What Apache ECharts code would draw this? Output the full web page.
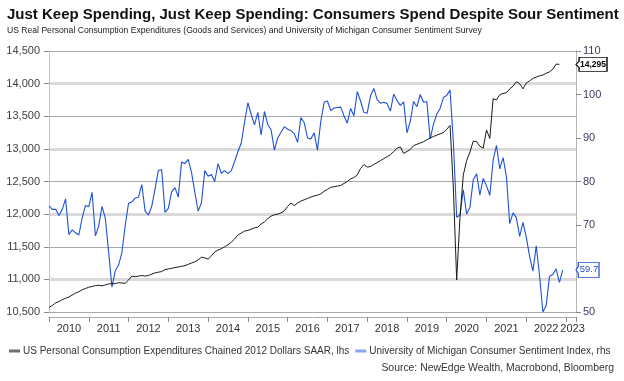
<!DOCTYPE html>
<html><head><meta charset="utf-8">
<script src="https://cdn.jsdelivr.net/npm/echarts@6/dist/echarts.min.js"></script>
<style>html,body{margin:0;padding:0;background:#fff}#c{width:624px;height:381px}</style>
</head><body><div id="c"></div>
<script>
// ---------------- data ----------------
const startYear = 2010;               // first monthly observation: Jan 2010
const yearLabels = [2010, 2011, 2012, 2013, 2014, 2015, 2016, 2017, 2018, 2019, 2020, 2021, 2022, 2023];
const leftTickValues = [10500, 11000, 11500, 12000, 12500, 13000, 13500, 14000, 14500];
const rightTickValues = [50, 60, 70, 80, 90, 100, 110];

// US real PCE, chained 2012 $bn SAAR, monthly Jan 2010 - Nov 2022
const pceValues = [
  10570, 10600, 10640, 10660, 10690, 10710, 10730, 10760, 10790, 10810, 10840, 10860,
  10880, 10890, 10905, 10910, 10900, 10915, 10930, 10935, 10935, 10950, 10945, 10940,
  10990, 11050, 11040, 11050, 11060, 11050, 11060, 11080, 11100, 11110, 11120, 11150,
  11160, 11170, 11180, 11190, 11200, 11210, 11230, 11250, 11270, 11300, 11340, 11330,
  11310, 11360, 11420, 11450, 11470, 11500, 11530, 11570, 11620, 11680, 11710, 11740,
  11750, 11770, 11790, 11800, 11850, 11880, 11930, 11970, 11990, 12000, 12020, 12050,
  12120, 12170, 12130, 12170, 12200, 12220, 12240, 12260, 12280, 12290, 12310, 12350,
  12380, 12410, 12420, 12430, 12440, 12470, 12500, 12540, 12560, 12600, 12700, 12760,
  12720, 12730, 12760, 12790, 12820, 12850, 12880, 12910, 12960, 13010, 13030, 12930,
  12960, 12990, 13050, 13070, 13090, 13110, 13140, 13170, 13190, 13210, 13230, 13250,
  13300, 13360, 12400, 10990, 11950, 12600, 12820, 12950, 13120, 13110, 13040, 13010,
  13290, 13160, 13770, 13750, 13830, 13850, 13860, 13920, 13960, 14030, 14000, 13920,
  14010, 14040, 14080, 14100, 14120, 14130, 14160, 14180, 14220, 14300, 14295
];

// University of Michigan consumer sentiment, monthly Jan 2010 - Dec 2022
const sentimentValues = [
  74.4, 73.6, 73.6, 72.2, 73.6, 76.0, 67.8, 68.9, 68.2, 67.7, 71.6, 74.5,
  74.2, 77.5, 67.5, 69.8, 74.3, 71.5, 63.7, 55.7, 59.5, 60.8, 63.7, 69.9,
  75.0, 75.3, 76.2, 76.4, 79.3, 73.2, 72.3, 74.3, 78.3, 82.6, 82.7, 72.9,
  73.8, 77.6, 78.6, 76.4, 84.5, 84.1, 85.1, 82.1, 77.5, 73.2, 75.1, 82.5,
  81.2, 81.6, 80.0, 84.1, 81.9, 82.5, 81.8, 82.5, 84.6, 86.9, 88.8, 93.6,
  98.1, 95.4, 93.0, 95.9, 90.7, 96.1, 93.1, 91.9, 87.2, 90.0, 91.3, 92.6,
  92.0, 91.7, 91.0, 89.0, 94.7, 93.5, 90.0, 89.8, 91.2, 87.2, 93.8, 98.2,
  98.5, 96.3, 96.9, 97.0, 97.1, 95.1, 93.4, 96.8, 95.1, 100.7, 98.5, 95.9,
  95.7, 99.7, 101.4, 98.8, 98.0, 98.2, 97.9, 96.2, 100.1, 98.6, 97.5, 98.3,
  91.2, 93.8, 98.4, 97.2, 100.0, 98.2, 98.4, 89.8, 93.2, 95.5, 96.8, 99.3,
  99.8, 101.0, 89.1, 71.8, 72.3, 78.1, 72.5, 74.1, 80.4, 81.8, 76.9, 80.7,
  79.0, 76.8, 84.9, 88.3, 82.9, 85.5, 81.2, 70.3, 72.8, 71.7, 67.4, 70.6,
  67.2, 62.8, 59.4, 65.2, 58.4, 50.0, 51.5, 58.2, 58.6, 59.9, 56.8, 59.7
];

const titleText = 'Just Keep Spending, Just Keep Spending: Consumers Spend Despite Sour Sentiment';
const subtitleText = 'US Real Personal Consumption Expenditures (Goods and Services) and University of Michigan Consumer Sentiment Survey';
const sourceText = 'Source: NewEdge Wealth, Macrobond, Bloomberg';
const pceName = 'US Personal Consumption Expenditures Chained 2012 Dollars SAAR, lhs';
const umName = 'University of Michigan Consumer Sentiment Index, rhs';

// ---------------- chart ----------------
const FONT = '"Liberation Sans", Arial, sans-serif';
const xMin = yearLabels[0];
const xMax = yearLabels[yearLabels.length - 1] + 0.25;
const toPairs = vals => vals.map((v, i) => [startYear + i / 12, v]);
const fmt = v => Number(v).toLocaleString('en-US');
const pceLast = pceValues[pceValues.length - 1];
const umLast = sentimentValues[sentimentValues.length - 1];
const BLUE = '#1f50d8';
const BLACK = '#1a1a1a';
const callout = 'path://M3,0 L30,0 L30,15 L3,15 L3,11 L0,7.5 L3,4 Z';

const chart = echarts.init(document.getElementById('c'), null, {renderer: 'canvas'});
chart.setOption({
  animation: false,
  backgroundColor: '#fff',
  textStyle: {fontFamily: FONT},
  title: [
    {text: titleText, left: 7, top: 7, padding: 0, textStyle: {fontFamily: FONT, fontSize: 15, fontWeight: 'bold', color: '#111'}},
    {text: subtitleText, left: 7, top: 26, padding: 0, textStyle: {fontFamily: FONT, fontSize: 8.6, fontWeight: 'normal', color: '#222'}}
  ],
  graphic: [
    {type: 'text', x: 614, y: 368, silent: true,
     style: {text: sourceText, align: 'right', verticalAlign: 'middle', font: '10.4px "Liberation Sans", Arial, sans-serif', fill: '#333'}}
  ],
  grid: {left: 49, right: 48, top: 51, bottom: 69},
  legend: {
    left: 4, top: 341, icon: 'rect', itemWidth: 11, itemHeight: 3, itemGap: 6,
    textStyle: {fontFamily: FONT, fontSize: 10, color: '#333', padding: [0, 0, 0, -2]},
    data: [
      {name: pceName, itemStyle: {color: '#6e6e6e'}},
      {name: umName, itemStyle: {color: '#8ba4ee'}}
    ]
  },
  xAxis: {
    type: 'value', min: xMin, max: xMax, interval: 1, offset: 5,
    axisLine: {show: true, lineStyle: {color: '#a8a8a8'}},
    axisTick: {show: true, length: 5, lineStyle: {color: '#888'}},
    splitLine: {show: false},
    axisLabel: {
      margin: 6, fontSize: 11, color: '#333',
      formatter: v => {
        if (!yearLabels.includes(v)) return '';
        return v === yearLabels[yearLabels.length - 1] ? '{b|' + v + '}' : '{a|' + v + '}';
      },
      rich: {
        a: {fontFamily: FONT, fontSize: 11, color: '#333', padding: [0, 0, 0, 39.8]},
        b: {fontFamily: FONT, fontSize: 11, color: '#333', padding: [0, 0, 0, 13]}
      }
    }
  },
  yAxis: [
    {
      type: 'value', position: 'left', min: leftTickValues[0], max: leftTickValues[leftTickValues.length - 1], interval: 500,
      axisLine: {show: true, lineStyle: {color: '#c4c4c4'}},
      axisTick: {show: true, length: 5, lineStyle: {color: '#888'}},
      axisLabel: {fontSize: 11, color: '#404040', margin: 9, formatter: fmt},
      splitLine: {show: true, lineStyle: {color: ['#a9a9a9', 'rgba(0,0,0,0)'], width: 1}}
    },
    {
      type: 'value', position: 'right', min: rightTickValues[0], max: rightTickValues[rightTickValues.length - 1], interval: 10,
      axisLine: {show: true, lineStyle: {color: '#b4b4b4'}},
      axisTick: {show: true, length: 5, lineStyle: {color: '#888'}},
      axisLabel: {fontSize: 11, color: '#3e3a5c', margin: 7},
      splitLine: {show: false}
    },
    {
      type: 'value', position: 'left', min: leftTickValues[0], max: leftTickValues[leftTickValues.length - 1], interval: 500,
      axisLine: {show: false}, axisTick: {show: false}, axisLabel: {show: false},
      splitLine: {show: true, lineStyle: {color: ['rgba(0,0,0,0)', '#dadada'], width: 3}}
    }
  ],
  series: [
    {
      name: pceName, type: 'line', yAxisIndex: 0, z: 3, showSymbol: false,
      data: toPairs(pceValues),
      lineStyle: {color: BLACK, width: 1}, itemStyle: {color: BLACK},
      markPoint: {
        silent: true, symbol: callout, symbolSize: [31, 14], symbolOffset: ['50%', 0],
        itemStyle: {color: '#fff', borderColor: '#111', borderWidth: 1},
        label: {show: true, position: 'inside', offset: [1.5, 0], color: '#000', fontSize: 8.5, fontWeight: 'bold', fontFamily: FONT, formatter: () => fmt(pceLast)},
        data: [{coord: [xMax, pceLast], value: pceLast}]
      }
    },
    {
      name: umName, type: 'line', yAxisIndex: 1, z: 2, showSymbol: false,
      data: toPairs(sentimentValues),
      lineStyle: {color: BLUE, width: 1.1}, itemStyle: {color: BLUE},
      markPoint: {
        silent: true, symbol: callout, symbolSize: [23, 15], symbolOffset: ['50%', 0],
        itemStyle: {color: '#fff', borderColor: BLUE, borderWidth: 1},
        label: {show: true, position: 'inside', offset: [1.5, 0], color: BLUE, fontSize: 9.5, fontFamily: FONT, formatter: () => String(umLast)},
        data: [{coord: [xMax, umLast], value: umLast}]
      }
    }
  ]
});
</script>
</body></html>
